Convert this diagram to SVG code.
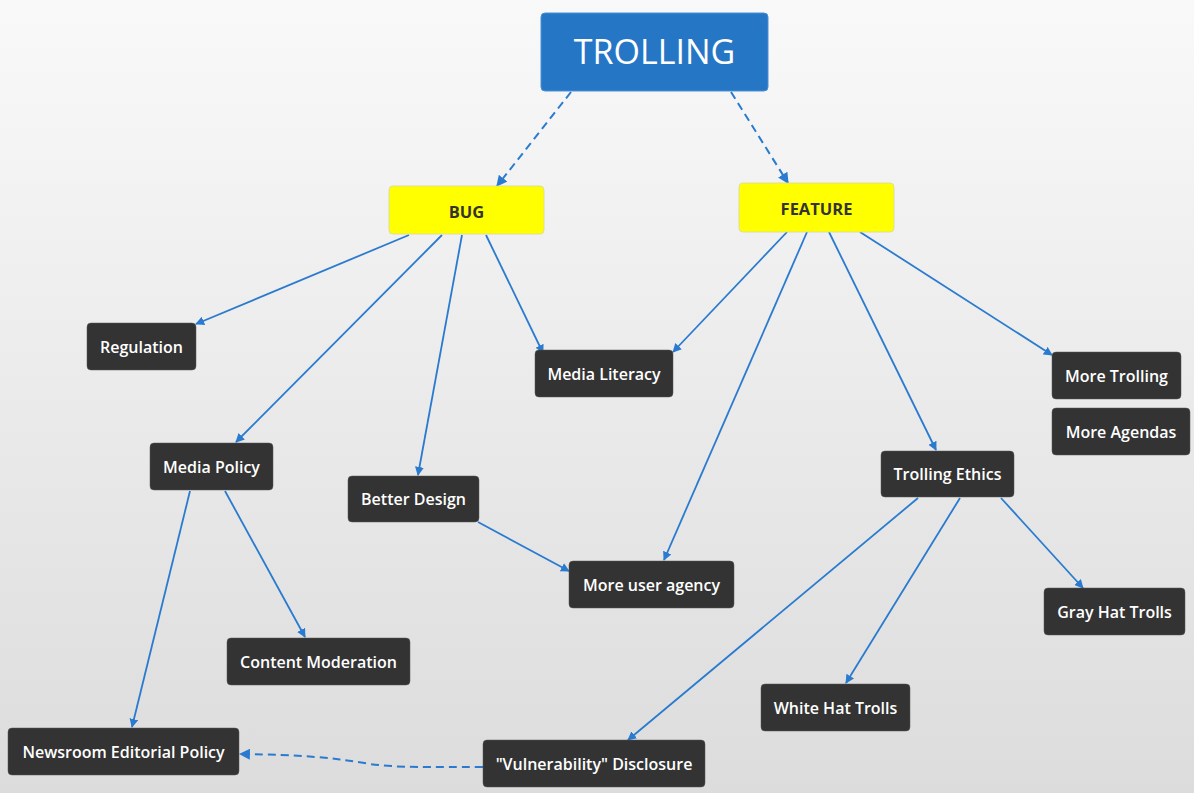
<svg xmlns="http://www.w3.org/2000/svg" width="1194" height="793" viewBox="0 0 1194 793">
<defs>
<linearGradient id="bg" x1="0" y1="0" x2="0" y2="1">
<stop offset="0" stop-color="#f9f9f9"/>
<stop offset="1" stop-color="#dcdcdc"/>
</linearGradient>
<marker id="ah" viewBox="0 0 10 10" refX="9" refY="5" markerWidth="9" markerHeight="9" orient="auto" markerUnits="userSpaceOnUse">
<path d="M0,0 L10,5 L0,10 z" fill="#2a7bcf"/>
</marker>
<marker id="ahb" viewBox="0 0 10 10" refX="9" refY="5" markerWidth="11" markerHeight="11" orient="auto" markerUnits="userSpaceOnUse">
<path d="M0,0 L10,5 L0,10 z" fill="#2a7bcf"/>
</marker>
</defs>
<style>
.c{fill:none;stroke:#2a7bcf;stroke-width:1.8;marker-end:url(#ah)}
.d{fill:none;stroke:#2a7bcf;stroke-width:2;stroke-dasharray:8 5;marker-end:url(#ahb)}
.n rect{fill:#333333;stroke:#555;stroke-width:0.5}
.n text{fill:#ffffff;font-family:"Open Sans","DejaVu Sans",sans-serif;font-size:16px;font-weight:600;text-anchor:middle;dominant-baseline:central}
.y rect{fill:#ffff00;stroke:#d8d8a0;stroke-width:0.8}
.y text{fill:#333333;font-family:"Open Sans","DejaVu Sans",sans-serif;font-size:16.5px;font-weight:bold;text-anchor:middle;dominant-baseline:central}
</style>
<rect width="1194" height="793" fill="url(#bg)"/>
<g id="connectors">
<path class="d" d="M571,92 L497,186"/>
<path class="d" d="M731,92 L788,183"/>
<path class="c" d="M409,235 L196,324"/>
<path class="c" d="M442,235 L236,442"/>
<path class="c" d="M462,235 L418,475"/>
<path class="c" d="M486,235 L543,353"/>
<path class="c" d="M787,232 L673,352"/>
<path class="c" d="M807,232 L664,560"/>
<path class="c" d="M829,232 L936,450"/>
<path class="c" d="M860,232 L1052,355"/>
<path class="c" d="M190,491 L132,727"/>
<path class="c" d="M225,491 L305,637"/>
<path class="c" d="M478,522 L569,571"/>
<path class="c" d="M918,498 L628,740"/>
<path class="c" d="M960,498 L846,683"/>
<path class="c" d="M1001,498 L1083,588"/>
<path class="d" d="M483,767 C430,767 400,768 370,764 C330,757 300,755 240,754"/>
</g>
<g id="trolling">
<rect x="541" y="13" width="227" height="78" rx="4" fill="#2676c6" stroke="#4a8fd6" stroke-width="1"/>
<text x="654.5" y="51" fill="#ffffff" font-family="Open Sans, DejaVu Sans, sans-serif" font-size="34" text-anchor="middle" dominant-baseline="central">TROLLING</text>
</g>
<g id="bug" class="y"><rect x="389" y="186" width="155" height="48" rx="4"/><text x="466.5" y="211">BUG</text></g>
<g id="feature" class="y"><rect x="739" y="183" width="155" height="49" rx="4"/><text x="816.5" y="208">FEATURE</text></g>
<g id="regulation" class="n"><rect x="87" y="323" width="109" height="47" rx="4"/><text x="141.5" y="347">Regulation</text></g>
<g id="media-policy" class="n"><rect x="150" y="443" width="123" height="47" rx="4"/><text x="211.5" y="467">Media Policy</text></g>
<g id="media-literacy" class="n"><rect x="535" y="350" width="138" height="47" rx="4"/><text x="604" y="374">Media Literacy</text></g>
<g id="better-design" class="n"><rect x="348" y="476" width="131" height="46" rx="4"/><text x="413.5" y="499">Better Design</text></g>
<g id="more-user-agency" class="n"><rect x="569" y="561" width="165" height="47" rx="4"/><text x="651.5" y="585">More user agency</text></g>
<g id="content-moderation" class="n"><rect x="227" y="638" width="183" height="47" rx="4"/><text x="318.5" y="662">Content Moderation</text></g>
<g id="newsroom" class="n"><rect x="8" y="728" width="231" height="47" rx="4"/><text x="123.5" y="752">Newsroom Editorial Policy</text></g>
<g id="vulnerability" class="n"><rect x="483" y="740" width="222" height="47" rx="4"/><text x="594" y="764">"Vulnerability" Disclosure</text></g>
<g id="white-hat" class="n"><rect x="761" y="684" width="149" height="47" rx="4"/><text x="835.5" y="708">White Hat Trolls</text></g>
<g id="trolling-ethics" class="n"><rect x="881" y="451" width="133" height="46" rx="4"/><text x="947.5" y="474">Trolling Ethics</text></g>
<g id="gray-hat" class="n"><rect x="1044" y="588" width="141" height="47" rx="4"/><text x="1114.5" y="612">Gray Hat Trolls</text></g>
<g id="more-trolling" class="n"><rect x="1052" y="352" width="129" height="47" rx="4"/><text x="1116.5" y="376">More Trolling</text></g>
<g id="more-agendas" class="n"><rect x="1052" y="408" width="138" height="47" rx="4"/><text x="1121" y="432">More Agendas</text></g>
</svg>
